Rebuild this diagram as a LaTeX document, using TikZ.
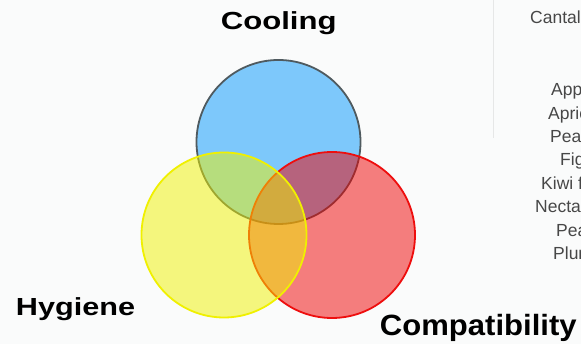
\documentclass[tikz,border=0pt]{standalone}
\usepackage{fontspec}
\setmainfont{Liberation Sans}
\definecolor{pagebg}{HTML}{FAFBFB}
\definecolor{coolfill}{HTML}{7DC8FB}
\definecolor{coolline}{HTML}{4F5A5F}
\definecolor{compfill}{HTML}{F00000}
\definecolor{compline}{HTML}{EE0E0E}
\definecolor{hygfill}{HTML}{EFF300}
\definecolor{hygline}{HTML}{F0F000}
\definecolor{listgray}{HTML}{474747}
\definecolor{panelline}{HTML}{E6E7E7}
\begin{document}
\begin{tikzpicture}[x=1pt,y=1pt,
  setcircle/.style={circle, inner sep=0pt, line width=1.8pt},
  title/.style={anchor=base, inner sep=0pt},
  fruit/.style={font=\fontsize{17.5}{20}\selectfont, text=listgray,
                anchor=base west, inner sep=0pt}]
  % page
  \fill[pagebg] (0,0) rectangle (581,344);
  \useasboundingbox (0,0) rectangle (581,344);
  \clip (0,0) rectangle (581,344);

  % side panel edge
  \coordinate (panelTop) at (493,344);
  \coordinate (panelBot) at (493,206);
  \draw[panelline, line width=0.7pt] (panelTop) -- (panelBot);

  % list of fruits at the right, running off the page edge
  \node[fruit] (f0) at (530,320.3) {Cantaloupe};
  \node[fruit] (f1) at (551,248.3) {Apples};
  \node[fruit] (f2) at (548,224.9) {Apricots};
  \node[fruit] (f3) at (550,201.5) {Peaches};
  \node[fruit] (f4) at (560,178.1) {Figs};
  \node[fruit] (f5) at (541,154.7) {Kiwi fruit};
  \node[fruit] (f6) at (535,131.3) {Nectarines};
  \node[fruit] (f7) at (556,107.9) {Pears};
  \node[fruit] (f8) at (553,84.5)  {Plums};

  % the three sets
  \node[setcircle, minimum size=164pt, draw=coolline, fill=coolfill]
    (cool) at (278.5,202) {};
  \node[setcircle, minimum size=166pt, draw=compline, fill=compfill, fill opacity=0.5]
    (comp) at (332,109) {};
  \node[setcircle, minimum size=165pt, draw=hygline, fill=hygfill, fill opacity=0.5]
    (hyg) at (224,109) {};

  % set labels
  \node[title, font=\fontsize{24.7}{28}\selectfont\bfseries] (lcool) at (278.7,314.7)
    {\scalebox{1.26}[1]{Cooling}};
  \node[title, font=\fontsize{24.7}{28}\selectfont\bfseries] (lhyg) at (75.5,28)
    {\scalebox{1.24}[1]{Hygiene}};
  \node[title, font=\fontsize{29.3}{33}\selectfont\bfseries] (lcomp) at (478.3,8)
    {\scalebox{1.06}[1]{Compatibility}};
\end{tikzpicture}
\end{document}
